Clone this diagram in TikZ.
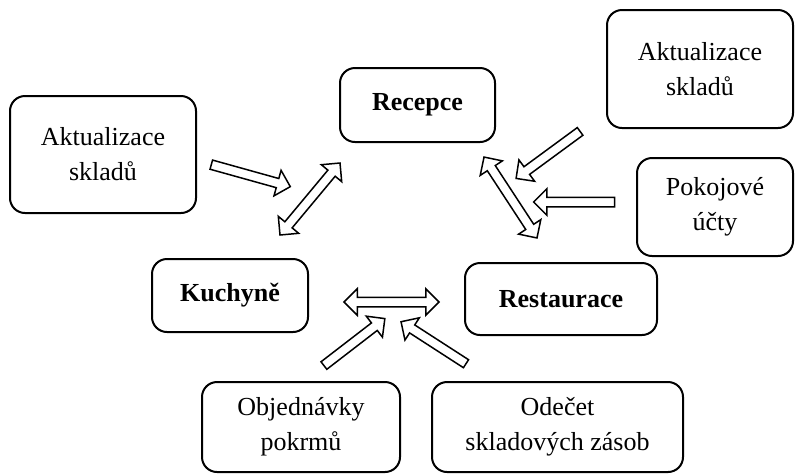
\documentclass[tikz,border=0pt]{standalone}
\usepackage{fontspec}
\setmainfont{Liberation Serif}
\usetikzlibrary{shapes.arrows,calc}

\tikzset{
  box/.style={draw, line width=1pt, rounded corners=7.5pt, align=center,
    font=\fontsize{13}{17.5}\selectfont, inner sep=0pt},
  hlavni/.style={box, font=\fontsize{13}{17.5}\selectfont\bfseries},
  sipka/.style={draw, line width=0.75pt, single arrow, single arrow head extend=4.25pt,
    inner xsep=0pt, inner ysep=2pt, minimum width=0pt},
  dvojsipka/.style={draw, line width=0.75pt, double arrow, double arrow head extend=4.25pt,
    inner xsep=0pt, inner ysep=2pt, minimum width=0pt}
}
% block arrow between two named points
\newcommand{\blok}[3]{%
  \path let \p1=(#2), \p2=(#3), \n1={atan2(\y2-\y1,\x2-\x1)}, \n2={veclen(\x2-\x1,\y2-\y1)} in
    node[#1, rotate=\n1, minimum height=\n2] at ($(#2)!0.5!(#3)$) {};}

\begin{document}
\begin{tikzpicture}[x=0.5pt, y=-0.5pt]
  \useasboundingbox (0,0) rectangle (795,473);

  % main parts
  \node[hlavni, minimum width=77.5pt, minimum height=37pt] (recepce) at (417.5,105) {Recepce};
  \node[hlavni, minimum width=78pt, minimum height=36.5pt] (kuchyne) at (230,295.5) {Kuchyně};
  \node[hlavni, minimum width=96pt, minimum height=36pt] (restaurace) at (561,299) {Restaurace};

  % the others
  \node[box, minimum width=93pt, minimum height=58.5pt] (aktl) at (103,154.5) {Aktualizace\\skladů};
  \node[box, minimum width=93pt, minimum height=59pt] (aktr) at (700,69) {Aktualizace\\skladů};
  \node[box, minimum width=78pt, minimum height=49pt] (ucty) at (715,207) {Pokojové\\účty};
  \node[box, minimum width=99pt, minimum height=45pt] (objed) at (301,427) {Objednávky\\pokrmů};
  \node[box, minimum width=125.5pt, minimum height=45pt] (odecet) at (557.5,427) {Odečet\\skladových zásob};

  % arrow ends
  \coordinate (aktl-a) at (209,164);
  \coordinate (aktl-b) at (288,186);
  \coordinate (kr-a) at (280,235);
  \coordinate (kr-b) at (340,163);
  \coordinate (aktr-a) at (582,130);
  \coordinate (aktr-b) at (518,177);
  \coordinate (ucty-a) at (617,202);
  \coordinate (ucty-b) at (536,202);
  \coordinate (rr-a) at (484,157);
  \coordinate (rr-b) at (537,238);
  \coordinate (kre-a) at (344,302);
  \coordinate (kre-b) at (439,302);
  \coordinate (objed-a) at (322,367);
  \coordinate (objed-b) at (383,320);
  \coordinate (odecet-a) at (468,365);
  \coordinate (odecet-b) at (403,323);

  \blok{sipka}{aktl-a}{aktl-b}
  \blok{dvojsipka}{kr-a}{kr-b}
  \blok{sipka}{aktr-a}{aktr-b}
  \blok{sipka}{ucty-a}{ucty-b}
  \blok{dvojsipka}{rr-a}{rr-b}
  \blok{dvojsipka}{kre-a}{kre-b}
  \blok{sipka}{objed-a}{objed-b}
  \blok{sipka}{odecet-a}{odecet-b}
\end{tikzpicture}
\end{document}
